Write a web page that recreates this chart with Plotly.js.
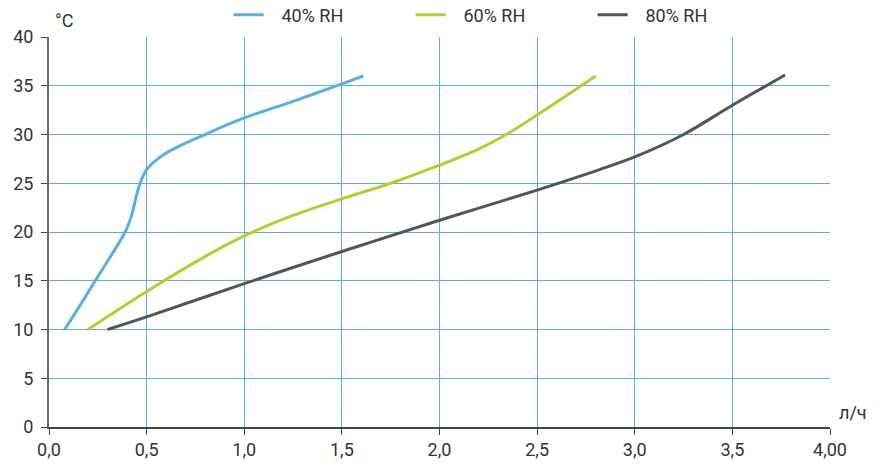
<!DOCTYPE html>
<html><head><meta charset="utf-8">
<script src="https://cdn.plot.ly/plotly-3.0.1.min.js"></script>
<style>html,body{margin:0;padding:0;background:#fff}#c{width:880px;height:464px}</style>
</head><body><div id="c"></div>
<script>
const names = ["\u2002\u200940% RH", "\u2002\u200960% RH", "\u2002\u200980% RH"];
const colors = ["#5aafe2", "#b8cd2c", "#555555"];
const x40 = [0.08, 0.16, 0.24, 0.39, 0.42, 0.46, 0.5, 0.6, 0.81, 1.0, 1.25, 1.5, 1.61];
const y40 = [10, 12.5, 15.1, 20.0, 21.5, 24.6, 26.4, 28.1, 30.1, 31.7, 33.4, 35.2, 36.0];
const x60 = [0.2, 0.5, 0.81, 1.0, 1.25, 1.5, 1.75, 2.0, 2.2, 2.35, 2.5, 2.8];
const y60 = [10, 13.9, 17.6, 19.6, 21.7, 23.4, 25.0, 26.85, 28.5, 30.1, 32.0, 36.0];
const x80 = [0.3, 0.5, 1.0, 1.5, 2.0, 2.5, 2.82, 3.0, 3.25, 3.5, 3.77];
const y80 = [10, 11.3, 14.7, 18.0, 21.2, 24.3, 26.4, 27.7, 30.0, 33.0, 36.1];
const xTickVals = [0, 0.5, 1, 1.5, 2, 2.5, 3, 3.5, 4];
const xTickText = ["0,0", "0,5", "1,0", "1,5", "2,0", "2,5", "3,0", "3,5", "4,00"];
const yTickVals = [0, 5, 10, 15, 20, 25, 30, 35, 40];

const xs = [x40, x60, x80], ys = [y40, y60, y80];
const data = names.map((n, i) => ({
  x: xs[i], y: ys[i], name: n, type: "scatter", mode: "lines",
  line: {color: colors[i], width: 3, shape: "spline", smoothing: 0.9}
}));
const font = {family: "Roboto, sans-serif", size: 18, color: "#333"};
const layout = {
  width: 880, height: 464,
  margin: {l: 49, r: 50, t: 37, b: 37, autoexpand: false},
  paper_bgcolor: "#fff", plot_bgcolor: "#fff",
  font: font,
  showlegend: true,
  legend: {orientation: "h", x: 0.23, xanchor: "left", y: 1.056, yanchor: "middle",
    font: font, entrywidth: 137, itemwidth: 30, traceorder: "normal"},
  xaxis: {range: [0, 4], tickvals: xTickVals, ticktext: xTickText,
    showgrid: true, gridcolor: "#5aafe2", gridwidth: 1,
    showline: true, linecolor: "#444", linewidth: 1.5,
    ticks: "outside", ticklen: 6, tickcolor: "#444", zeroline: false,
    tickfont: font, fixedrange: true, automargin: false},
  yaxis: {range: [0, 40], tickvals: yTickVals,
    showgrid: true, gridcolor: "#5aafe2", gridwidth: 1,
    showline: true, linecolor: "#666", linewidth: 2,
    ticks: "outside", ticklen: 6, tickcolor: "#444", zeroline: false,
    ticklabelstandoff: 4,
    tickfont: font, fixedrange: true, automargin: false},
  annotations: [
    {text: "°C", xref: "paper", yref: "paper", x: 0.0, y: 1.0, xanchor: "left", yanchor: "bottom",
     xshift: 4, yshift: 4, showarrow: false, font: font},
    {text: "л/ч", xref: "paper", yref: "paper", x: 1.0, y: 0.0, xanchor: "left", yanchor: "bottom",
     xshift: 7, yshift: 2, showarrow: false, font: font}
  ]
};
Plotly.newPlot("c", data, layout, {displayModeBar: false, staticPlot: true});
</script></body></html>
